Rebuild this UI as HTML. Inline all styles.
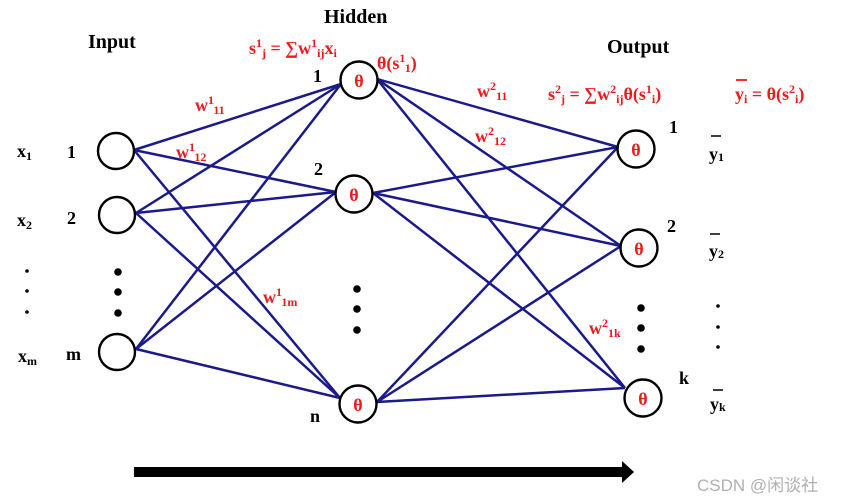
<!DOCTYPE html>
<html><head><meta charset="utf-8"><style>
html,body{margin:0;padding:0;background:#fff;}
svg{display:block;}
.b{font-family:"Liberation Serif",serif;font-weight:bold;fill:#000;}
.r{font-family:"Liberation Serif",serif;font-weight:bold;fill:#f01818;}
</style></head><body>
<svg width="844" height="502" viewBox="0 0 844 502" xmlns="http://www.w3.org/2000/svg">
<g stroke="#1a1a8c" stroke-width="2.5" fill="none">
<line x1="134" y1="150" x2="341" y2="84"/>
<line x1="134" y1="150" x2="336" y2="192"/>
<line x1="134" y1="150" x2="340" y2="398"/>
<line x1="136" y1="213" x2="341" y2="84"/>
<line x1="136" y1="213" x2="336" y2="192"/>
<line x1="136" y1="213" x2="340" y2="398"/>
<line x1="136" y1="349" x2="341" y2="84"/>
<line x1="136" y1="349" x2="336" y2="192"/>
<line x1="136" y1="349" x2="340" y2="398"/>
<line x1="377" y1="79" x2="618" y2="147"/>
<line x1="377" y1="79" x2="621" y2="246"/>
<line x1="377" y1="79" x2="625" y2="388"/>
<line x1="373" y1="193" x2="618" y2="147"/>
<line x1="373" y1="193" x2="621" y2="246"/>
<line x1="373" y1="193" x2="625" y2="388"/>
<line x1="377" y1="402" x2="618" y2="147"/>
<line x1="377" y1="402" x2="621" y2="246"/>
<line x1="377" y1="402" x2="625" y2="388"/>
</g>
<g stroke="#000" stroke-width="2.4" fill="#fff">
<circle cx="116" cy="151" r="18"/>
<circle cx="117" cy="215" r="18"/>
<circle cx="117" cy="352" r="18"/>
<circle cx="359" cy="80" r="18.5"/>
<circle cx="354" cy="194" r="18.5"/>
<circle cx="358" cy="404" r="18.5"/>
<circle cx="636" cy="149" r="18.5"/>
<circle cx="639" cy="248" r="18.5"/>
<circle cx="643" cy="398" r="18.5"/>
</g>
<g class="r" font-size="18" text-anchor="middle">
<text x="359" y="87">θ</text><text x="354" y="201">θ</text><text x="358" y="411">θ</text>
<text x="636" y="156">θ</text><text x="639" y="255">θ</text><text x="643" y="405">θ</text>
</g>
<g fill="#000">
<circle cx="118" cy="272" r="3.8"/><circle cx="118" cy="292" r="3.8"/><circle cx="118" cy="313" r="3.8"/>
<circle cx="357" cy="289" r="3.8"/><circle cx="357" cy="309" r="3.8"/><circle cx="357" cy="330" r="3.8"/>
<circle cx="641" cy="308" r="3.8"/><circle cx="641" cy="328" r="3.8"/><circle cx="641" cy="349" r="3.8"/>
<circle cx="27" cy="271" r="1.8"/><circle cx="27" cy="291" r="1.8"/><circle cx="27" cy="312" r="1.8"/>
<circle cx="718" cy="306" r="1.8"/><circle cx="718" cy="327" r="1.8"/><circle cx="718" cy="347" r="1.8"/>
</g>
<g class="b" font-size="20">
<text x="88" y="48">Input</text>
<text x="324" y="23">Hidden</text>
<text x="607" y="53">Output</text>
</g>
<g class="b" font-size="18">
<text x="17" y="157">x<tspan font-size="12" dy="3">1</tspan></text>
<text x="17" y="226">x<tspan font-size="12" dy="3">2</tspan></text>
<text x="18" y="362">x<tspan font-size="12" dy="3">m</tspan></text>
<text x="67" y="158">1</text><text x="67" y="224">2</text><text x="66" y="360">m</text>
<text x="313" y="82">1</text><text x="314" y="175">2</text><text x="310" y="422">n</text>
<text x="669" y="133">1</text><text x="667" y="232">2</text><text x="679" y="384">k</text>
<text x="709" y="160">y<tspan font-size="12" dy="1">1</tspan></text>
<text x="709" y="257">y<tspan font-size="12" dy="1">2</tspan></text>
<text x="710" y="410">y<tspan font-size="12" dy="1">k</tspan></text>
</g>
<g stroke="#000" stroke-width="1.5">
<line x1="711" y1="136" x2="721" y2="136"/>
<line x1="710" y1="234" x2="720" y2="234"/>
<line x1="713" y1="390" x2="723" y2="390"/>
</g>
<g class="r" font-size="18">
<text x="249" y="54">s<tspan font-size="12" dy="-7">1</tspan><tspan font-size="12" dy="10">j</tspan><tspan dy="-3"> = ∑w</tspan><tspan font-size="12" dy="-7">1</tspan><tspan font-size="12" dy="10">ij</tspan><tspan dy="-3">x</tspan><tspan font-size="12" dy="3">i</tspan></text>
<text x="377" y="69">θ(s<tspan font-size="12" dy="-7">1</tspan><tspan font-size="12" dy="10">1</tspan><tspan dy="-3">)</tspan></text>
<text x="195" y="111">w<tspan font-size="12" dy="-7">1</tspan><tspan font-size="12" dy="10">11</tspan></text>
<text x="176" y="158">w<tspan font-size="12" dy="-7">1</tspan><tspan font-size="12" dy="10">12</tspan></text>
<text x="263" y="303">w<tspan font-size="12" dy="-7">1</tspan><tspan font-size="12" dy="10">1m</tspan></text>
<text x="477" y="97">w<tspan font-size="12" dy="-7">2</tspan><tspan font-size="12" dy="10">11</tspan></text>
<text x="475" y="142">w<tspan font-size="12" dy="-7">2</tspan><tspan font-size="12" dy="10">12</tspan></text>
<text x="589" y="334">w<tspan font-size="12" dy="-7">2</tspan><tspan font-size="12" dy="10">1k</tspan></text>
<text x="548" y="100">s<tspan font-size="12" dy="-7">2</tspan><tspan font-size="12" dy="10">j</tspan><tspan dy="-3"> = ∑w</tspan><tspan font-size="12" dy="-7">2</tspan><tspan font-size="12" dy="10">ij</tspan><tspan dy="-3">θ(s</tspan><tspan font-size="12" dy="-7">1</tspan><tspan font-size="12" dy="10">i</tspan><tspan dy="-3">)</tspan></text>
<text x="735" y="100">y<tspan font-size="12" dy="3">i</tspan><tspan dy="-3"> = θ(s</tspan><tspan font-size="12" dy="-7">2</tspan><tspan font-size="12" dy="10">i</tspan><tspan dy="-3">)</tspan></text>
</g>
<line x1="736" y1="80" x2="747" y2="80" stroke="#f01818" stroke-width="1.8"/>
<rect x="134" y="467" width="490" height="10" fill="#000"/>
<polygon points="622,461 634,472 622,483" fill="#000"/>
<text x="697" y="491" font-family="'Liberation Sans','Noto Sans CJK SC',sans-serif" font-size="17" fill="#b0b0b0">CSDN @闲谈社</text>
</svg>
</body></html>
